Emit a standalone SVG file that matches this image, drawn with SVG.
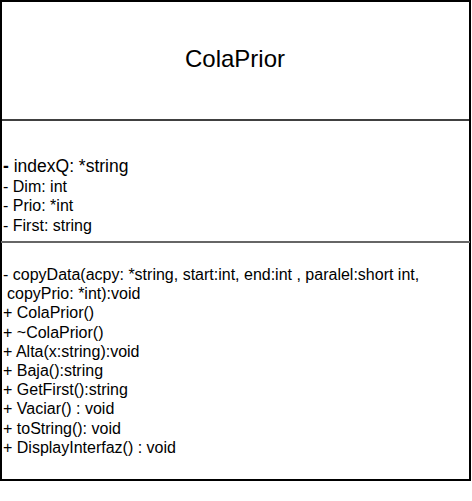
<svg xmlns="http://www.w3.org/2000/svg" width="472" height="501" viewBox="0 0 472 501">
  <style>
    text { font-family: "Liberation Sans", Arial, sans-serif; fill: #000; }
    .title { font-size: 24px; }
    .big { font-size: 17.5px; }
    .row { font-size: 16px; }
    .frame { fill: #fff; stroke: #000; stroke-width: 2; }
    .div { stroke: #000; stroke-width: 1.5; }
    .div2 { stroke: #666; stroke-width: 2; }
  </style>
  <rect width="472" height="501" fill="#fff"/>
  <g id="ColaPrior">
    <rect class="frame" x="1" y="1" width="469" height="479"/>
    <line class="div" x1="1" y1="120" x2="470" y2="120"/>
    <line class="div2" x1="1" y1="242" x2="470" y2="242"/>
    <text class="title" x="235" y="67" text-anchor="middle">ColaPrior</text>
    <g id="attributes">
      <text class="big" x="3" y="172"><tspan font-weight="bold">-</tspan> indexQ: *string</text>
      <text class="row" x="3" y="192">- Dim: int</text>
      <text class="row" x="3" y="211">- Prio: *int</text>
      <text class="row" x="3" y="231">- First: string</text>
    </g>
    <g id="operations">
      <text class="row" x="3" y="280">- copyData(acpy: *string, start:int, end:int , paralel:short int,</text>
      <text class="row" x="7" y="299">copyPrio: *int):void</text>
      <text class="row" x="3" y="318">+ ColaPrior()</text>
      <text class="row" x="3" y="338">+ ~ColaPrior()</text>
      <text class="row" x="3" y="357">+ Alta(x:string):void</text>
      <text class="row" x="3" y="376">+ Baja():string</text>
      <text class="row" x="3" y="395">+ GetFirst():string</text>
      <text class="row" x="3" y="414">+ Vaciar() : void</text>
      <text class="row" x="3" y="434">+ toString(): void</text>
      <text class="row" x="3" y="453">+ DisplayInterfaz() : void</text>
    </g>
  </g>
</svg>
